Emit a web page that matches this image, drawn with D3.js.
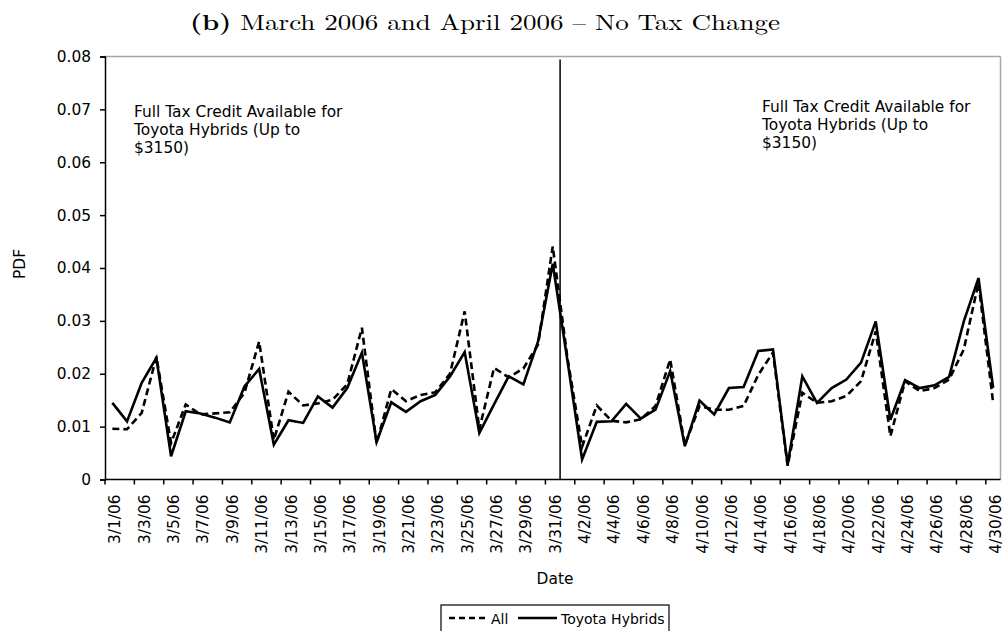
<!DOCTYPE html>
<html>
<head>
<meta charset="utf-8">
<script src="https://cdn.jsdelivr.net/npm/d3@7"></script>
<style>
  html, body { margin: 0; padding: 0; background: #fff; }
  svg { display: block; }
  text { font-family: "DejaVu Sans", Verdana, sans-serif; fill: #000; }
</style>
</head>
<body>
<svg id="chart" width="1004" height="631"></svg>
<script>
const dates = ["3/1/06","3/2/06","3/3/06","3/4/06","3/5/06","3/6/06","3/7/06","3/8/06","3/9/06","3/10/06",
  "3/11/06","3/12/06","3/13/06","3/14/06","3/15/06","3/16/06","3/17/06","3/18/06","3/19/06","3/20/06",
  "3/21/06","3/22/06","3/23/06","3/24/06","3/25/06","3/26/06","3/27/06","3/28/06","3/29/06","3/30/06","3/31/06",
  "4/1/06","4/2/06","4/3/06","4/4/06","4/5/06","4/6/06","4/7/06","4/8/06","4/9/06","4/10/06",
  "4/11/06","4/12/06","4/13/06","4/14/06","4/15/06","4/16/06","4/17/06","4/18/06","4/19/06","4/20/06",
  "4/21/06","4/22/06","4/23/06","4/24/06","4/25/06","4/26/06","4/27/06","4/28/06","4/29/06","4/30/06"];

const allValues = [0.0096,0.0095,0.0126,0.0232,0.0069,0.0142,0.0123,0.0125,0.0127,0.0164,
  0.0261,0.0075,0.0166,0.0140,0.0144,0.0151,0.0180,0.0287,0.0068,0.0171,
  0.0148,0.0160,0.0165,0.0200,0.0318,0.0095,0.0211,0.0193,0.0210,0.0255,0.0441,
  0.0230,0.0062,0.0140,0.0111,0.0108,0.0114,0.0139,0.0227,0.0065,0.0139,
  0.0132,0.0132,0.0139,0.0198,0.0240,0.0026,0.0164,0.0145,0.0148,0.0158,
  0.0186,0.0280,0.0082,0.0186,0.0167,0.0173,0.0189,0.0246,0.0372,0.0145];

const toyotaValues = [0.0145,0.0110,0.0183,0.0230,0.0044,0.0129,0.0125,0.0117,0.0108,0.0176,
  0.0209,0.0066,0.0112,0.0107,0.0157,0.0136,0.0173,0.0240,0.0071,0.0146,
  0.0128,0.0148,0.0160,0.0195,0.0241,0.0088,0.0142,0.0195,0.0180,0.0261,0.0408,
  0.0225,0.0038,0.0109,0.0110,0.0143,0.0115,0.0132,0.0205,0.0063,0.0149,
  0.0123,0.0173,0.0175,0.0243,0.0246,0.0028,0.0195,0.0145,0.0173,0.0189,
  0.0221,0.0299,0.0113,0.0188,0.0173,0.0178,0.0194,0.0299,0.0381,0.0173];

const yTicks = [0, 0.01, 0.02, 0.03, 0.04, 0.05, 0.06, 0.07, 0.08];
const seriesNames = ["All", "Toyota Hybrids"];
const titleBold = "(b)";
const titleRest = " March 2006 and April 2006 \u2013 No Tax Change";
const annotationLines = ["Full Tax Credit Available for", "Toyota Hybrids (Up to", "$3150)"];
const dividerDate = "4/1/06";

const svg = d3.select("#chart");
const mLeft = 105, mRight = 1000.5, mTop = 56.5, mBottom = 479.5;
const fs = "15.4px";

const x = d3.scaleBand().domain(dates).range([mLeft, mRight]).padding(0);
const y = d3.scaleLinear().domain([0, 0.08]).range([mBottom, mTop]);
const cx = d => x(d) + x.bandwidth() / 2;

// Title
const title = svg.append("text")
  .attr("x", 485).attr("y", 30)
  .attr("text-anchor", "middle")
  .style("font-family", "'Latin Modern Roman','CMU Serif','DejaVu Serif',serif")
  .style("font-size", "22px");
title.append("tspan").style("font-weight", "bold").text(titleBold);
title.append("tspan").text(titleRest);
title.attr("textLength", 590).attr("lengthAdjust", "spacingAndGlyphs");

// Frame top / right (gray)
svg.append("line").attr("x1", mLeft).attr("x2", mRight).attr("y1", mTop).attr("y2", mTop)
  .attr("stroke", "#a6a6a6").attr("stroke-width", 1.5);
svg.append("line").attr("x1", mRight).attr("x2", mRight).attr("y1", mTop).attr("y2", mBottom)
  .attr("stroke", "#a6a6a6").attr("stroke-width", 1.5);

// Y axis
const yAxis = d3.axisLeft(y).tickValues(yTicks).tickSize(5).tickPadding(9)
  .tickFormat(d => d === 0 ? "0" : d3.format(".2f")(d));
const gy = svg.append("g").attr("transform", `translate(${mLeft},0)`).call(yAxis);
gy.select(".domain").attr("stroke", "#000").attr("stroke-width", 1.5);
gy.selectAll(".tick line").attr("stroke", "#000").attr("stroke-width", 1.5);
gy.selectAll(".tick text").style("font-size", fs).style("font-family", "'DejaVu Sans',Verdana,sans-serif");

// X axis line
svg.append("line").attr("x1", mLeft).attr("x2", mRight).attr("y1", mBottom).attr("y2", mBottom)
  .attr("stroke", "#000").attr("stroke-width", 1.5);
const tickDates = dates.filter((d, i) => i % 2 === 0);
svg.append("g").selectAll("line").data(tickDates).join("line")
  .attr("x1", d => x(d)).attr("x2", d => x(d))
  .attr("y1", mBottom).attr("y2", mBottom + 5)
  .attr("stroke", "#000").attr("stroke-width", 1.5);
svg.append("g").selectAll("text").data(tickDates).join("text")
  .attr("transform", d => `translate(${cx(d) + 8},${mBottom + 15}) rotate(-90)`)
  .attr("text-anchor", "end")
  .style("font-size", fs)
  .text(d => d);

// Axis titles
svg.append("text").attr("x", 555).attr("y", 584).attr("text-anchor", "middle")
  .style("font-size", fs).text("Date");
svg.append("text").attr("transform", "translate(25,264) rotate(-90)").attr("text-anchor", "middle")
  .style("font-size", fs).text("PDF");

// Divider line
svg.append("line").attr("x1", x(dividerDate)).attr("x2", x(dividerDate))
  .attr("y1", mTop + 3).attr("y2", mBottom)
  .attr("stroke", "#000").attr("stroke-width", 1.5);

// Annotations
function annot(x0, y0) {
  const t = svg.append("text").style("font-size", fs);
  annotationLines.forEach((l, i) => {
    t.append("tspan").attr("x", x0).attr("y", y0 + i * 18).text(l);
  });
}
annot(134, 117);
annot(762, 112);

// Lines
const line = d3.line().x((d, i) => cx(dates[i])).y(d => y(d));
svg.append("path").datum(allValues).attr("d", line)
  .attr("fill", "none").attr("stroke", "#000").attr("stroke-width", 2.6)
  .attr("stroke-dasharray", "7,4").attr("stroke-linejoin", "miter");
svg.append("path").datum(toyotaValues).attr("d", line)
  .attr("fill", "none").attr("stroke", "#000").attr("stroke-width", 2.6)
  .attr("stroke-linejoin", "miter");

// Legend
const lg = svg.append("g");
lg.append("rect").attr("x", 441).attr("y", 605).attr("width", 228).attr("height", 30)
  .attr("fill", "#fff").attr("stroke", "#000").attr("stroke-width", 1.2);
lg.append("line").attr("x1", 449).attr("x2", 487).attr("y1", 618).attr("y2", 618)
  .attr("stroke", "#000").attr("stroke-width", 2.6).attr("stroke-dasharray", "6,4");
lg.append("text").attr("x", 491).attr("y", 624).style("font-size", "14px").text(seriesNames[0]);
lg.append("line").attr("x1", 518).attr("x2", 557).attr("y1", 618).attr("y2", 618)
  .attr("stroke", "#000").attr("stroke-width", 2.6);
lg.append("text").attr("x", 561).attr("y", 624).style("font-size", "14px").text(seriesNames[1]);
</script>
</body>
</html>
